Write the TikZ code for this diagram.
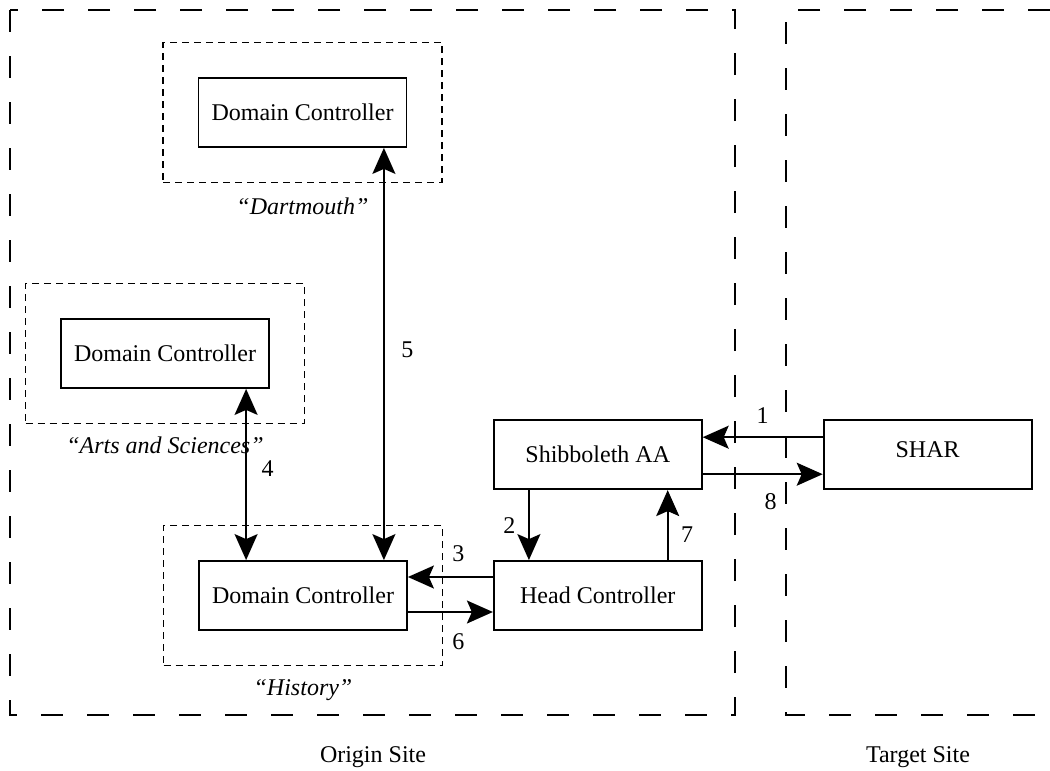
\documentclass[tikz,border=0pt]{standalone}
\usepackage{fontspec}
\setmainfont{Liberation Serif}
\usetikzlibrary{arrows.meta, positioning, fit}

\begin{document}
\begin{tikzpicture}[
                x=0.5pt, y=-0.5pt,
                font=\fontsize{12}{14}\selectfont,
                node distance=4pt,
                box/.style={rectangle, draw=black, line width=0.9pt, fill=white, text centered, minimum width=104pt, minimum height=34.5pt, inner sep=0pt},
                group/.style={rectangle, draw=black, line width=0.75pt, dash pattern=on 3.5pt off 2.5pt, inner sep=17.25pt},
                site/.style={line width=0.8pt, dash pattern=on 11pt off 12pt},
                grplabel/.style={font=\fontsize{12}{14}\selectfont\itshape},
                arrow/.style={line width=0.85pt, -{Stealth[length=13pt, width=11.5pt, inset=2.5pt]}},
                dblarrow/.style={line width=0.85pt, {Stealth[length=13pt, width=11.5pt, inset=2.5pt]}-{Stealth[length=13pt, width=11.5pt, inset=2.5pt]}}
            ]
                \useasboundingbox (0,0) rectangle (1050,771);

                % sites
                \draw [site] (10,10) rectangle (735,715);
                \draw [site] (1050,10) -- (786,10) -- (786,715) -- (1050,715);
                \node (origin) at (373,757) {Origin Site};
                \node (target) at (918,757) {Target Site};

                % domain controllers
                \node (dcHist) [box] at (303,595.5) {Domain Controller};
                \node (dcDart) [box] at (302.5,112.5) {Domain Controller};
                \node (dcArts) [box] at (165,353.5) {Domain Controller};
                \node (grpHist) [group, fit=(dcHist)] {};
                \node (grpDart) [group, fit=(dcDart)] {};
                \node (grpArts) [group, fit=(dcArts)] {};
                \node (lblHist) [grplabel, below=3pt of grpHist] {``History''};
                \node (lblDart) [grplabel, below=4pt of grpDart] {``Dartmouth''};
                \node (lblArts) [grplabel, below=3pt of grpArts] {``Arts and Sciences''};

                % head controller, AA, SHAR
                \node (head) [box, right=42.5pt of dcHist] {Head Controller};
                \node (shib) [box, above=35pt of head] {Shibboleth AA};
                \node (shar) [box, right=60pt of shib, text depth=5pt] {SHAR};

                \draw [arrow] ([yshift=8.75pt]shar.west) -- node (n1) [above=3pt] {1} ([yshift=8.75pt]shib.east);
                \draw [arrow] ([xshift=18pt]shib.south west) -- node (n2) [left=3pt] {2} ([xshift=18pt]head.north west);
                \draw [arrow] ([yshift=9.25pt]head.west) -- node (n3) [above=4pt, xshift=4pt] {3} ([yshift=9.25pt]dcHist.east);
                \draw [dblarrow] ([xshift=24pt]dcHist.north west) -- node (n4) [right=4pt, yshift=3pt] {4} ([xshift=24pt]dcHist.north west |- dcArts.south);
                \draw [dblarrow] ([xshift=-12pt]dcHist.north east) -- node (n5) [right=5pt, yshift=2pt] {5} ([xshift=-12pt]dcHist.north east |- dcDart.south);
                \draw [arrow] ([yshift=-8.25pt]dcHist.east) -- node (n6) [below=7pt, xshift=4pt] {6} ([yshift=-8.25pt]head.west);
                \draw [arrow] ([xshift=-17.5pt]head.north east) -- node (n7) [right=3pt, yshift=-5pt] {7} ([xshift=-17.5pt]shib.south east);
                \draw [arrow] ([yshift=-9.75pt]shib.east) -- node (n8) [below=6pt, xshift=4pt] {8} ([yshift=-9.75pt]shar.west);
            \end{tikzpicture}
\end{document}
